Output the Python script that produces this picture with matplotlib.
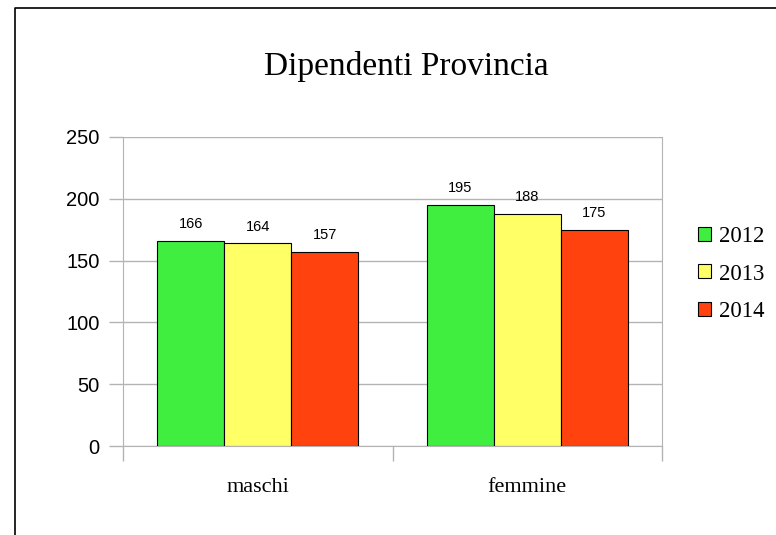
import matplotlib.pyplot as plt
import numpy as np
from matplotlib.lines import Line2D

categorie = ["maschi", "femmine"]
anni = ["2012", "2013", "2014"]
valori_2012 = [166, 195]
valori_2013 = [164, 188]
valori_2014 = [157, 175]
colori = ["#40ee40", "#ffff66", "#ff420e"]

fig = plt.figure(figsize=(7.76, 5.35), dpi=100)
ax = fig.add_axes([123 / 776, 1 - 446 / 535, 539 / 776, 309 / 535])

x = np.arange(len(categorie))
w = 0.249
serie = [valori_2012, valori_2013, valori_2014]
for i, (vals, anno, col) in enumerate(zip(serie, anni, colori)):
    bars = ax.bar(x + (i - 1) * w, vals, w, color=col, edgecolor="black",
                  linewidth=0.8, label=anno, zorder=3)
    for b, v in zip(bars, vals):
        ax.annotate(str(v), (b.get_x() + b.get_width() / 2, v), xytext=(0, 7),
                    textcoords="offset points", ha="center", va="bottom",
                    fontsize=10.5, family="Liberation Sans")

ax.set_xlim(-0.5, 1.5)
ax.set_ylim(0, 250)
ax.set_yticks(np.arange(0, 251, 50))
ax.yaxis.grid(True, color="#b3b3b3", linewidth=1, zorder=0)
ax.set_xticks([-0.5, 0.5, 1.5])
ax.set_xticklabels([])
ax.set_xticks(x, minor=True)
ax.set_xticklabels(categorie, minor=True, fontsize=16, family="Liberation Serif")
ax.tick_params(axis="x", which="minor", length=0, pad=23)
ax.tick_params(axis="x", which="major", length=11, color="#b3b3b3", width=1)
ax.tick_params(axis="y", length=10, color="#b3b3b3", width=1, labelsize=14.5, pad=7)
for lab in ax.get_yticklabels():
    lab.set_family("Liberation Sans")
for s in ax.spines.values():
    s.set_color("#b3b3b3")
ax.spines["top"].set_visible(False)

fig.text(406 / 776, 1 - 66 / 535, "Dipendenti Provincia", ha="center", va="center",
         fontsize=24, family="Liberation Serif")

fig.legend(loc="center left", bbox_to_anchor=(698 / 776, 1 - 274 / 535), frameon=False,
           handlelength=0.55, handleheight=0.55, handletextpad=0.36, labelspacing=0.73,
           borderpad=0, borderaxespad=0,
           prop={"family": "Liberation Serif", "size": 16.5})

fig.add_artist(Line2D([15 / 776, 15 / 776, 1], [0, 1 - 8 / 535, 1 - 8 / 535],
                      color="black", linewidth=1.2, transform=fig.transFigure))

fig.savefig("out.png", dpi=100)
